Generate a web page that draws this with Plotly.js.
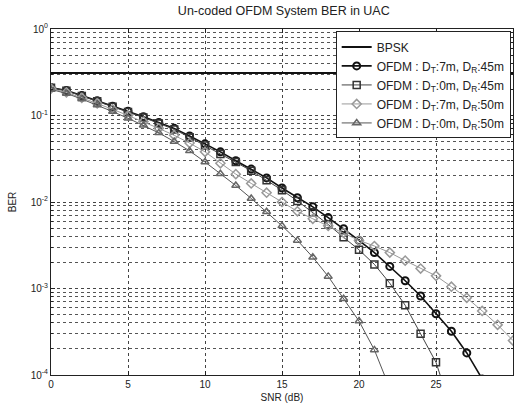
<!DOCTYPE html>
<html>
<head>
<meta charset="utf-8">
<script src="https://cdn.plot.ly/plotly-3.0.1.min.js"></script>
<style>html,body{margin:0;padding:0;background:#fff;}#chart{width:516px;height:410px;}</style>
</head>
<body>
<div id="chart"></div>
<script>
const snr = [0,1,2,3,4,5,6,7,8,9,10,11,12,13,14,15,16,17,18,19,20,21,22,23,24,25,26,27,28,29,30];
const bpskX = [0, 30];
const bpskBer = [0.31, 0.31];
const berT7R45 = [0.21,0.195,0.17,0.148,0.128,0.112,0.097,0.083,0.071,0.058,0.047,0.038,0.030,0.024,0.019,0.0145,0.0112,0.0088,0.0066,0.0049,0.0036,0.0026,0.0018,0.00123,0.00082,0.00051,0.00032,0.00018,0.00009];
const berT0R45 = [0.21,0.193,0.168,0.146,0.126,0.110,0.095,0.081,0.069,0.056,0.045,0.036,0.029,0.023,0.0178,0.0137,0.0103,0.0076,0.0055,0.0039,0.0028,0.0019,0.00115,0.00064,0.0003,0.00014,0.00004];
const berT7R50 = [0.205,0.185,0.16,0.138,0.118,0.100,0.085,0.071,0.059,0.048,0.038,0.028,0.021,0.0164,0.0128,0.010,0.0078,0.0064,0.0053,0.0044,0.0036,0.0031,0.0026,0.0021,0.0017,0.0014,0.00105,0.00078,0.00055,0.00038,0.00025];
const berT0R50 = [0.2,0.18,0.155,0.132,0.111,0.093,0.077,0.063,0.050,0.039,0.029,0.0212,0.0155,0.011,0.0077,0.0053,0.0036,0.0023,0.00138,0.00076,0.00042,0.000195,0.00007];
const seriesNames = ['BPSK',
  'OFDM : D<sub>T</sub>:7m, D<sub>R</sub>:45m',
  'OFDM : D<sub>T</sub>:0m, D<sub>R</sub>:45m',
  'OFDM : D<sub>T</sub>:7m, D<sub>R</sub>:50m',
  'OFDM : D<sub>T</sub>:0m, D<sub>R</sub>:50m'];
const yTickVals = [1e-4, 1e-3, 1e-2, 1e-1, 1];
const yTickText = ['10<sup>-4</sup>','10<sup>-3</sup>','10<sup>-2</sup>','10<sup>-1</sup>','10<sup>0</sup>'];
const xTickVals = [0,5,10,15,20,25,30];

const traces = [
  {x: bpskX, y: bpskBer, name: seriesNames[0], mode: 'lines', line: {color: '#111', width: 2}},
  {x: snr.slice(0, berT7R45.length), y: berT7R45, name: seriesNames[1], mode: 'lines+markers',
   line: {color: '#111', width: 1.6}, marker: {symbol: 'circle-open', size: 7, color: '#111', line: {width: 2}}},
  {x: snr.slice(0, berT0R45.length), y: berT0R45, name: seriesNames[2], mode: 'lines+markers',
   line: {color: '#444', width: 1}, marker: {symbol: 'square-open', size: 7, color: '#333', line: {width: 1.5}}},
  {x: snr.slice(0, berT7R50.length), y: berT7R50, name: seriesNames[3], mode: 'lines+markers',
   line: {color: '#999', width: 1}, marker: {symbol: 'diamond-open', size: 7, color: '#999', line: {width: 1.5}}},
  {x: snr.slice(0, berT0R50.length), y: berT0R50, name: seriesNames[4], mode: 'lines+markers',
   line: {color: '#555', width: 1}, marker: {symbol: 'triangle-up-open', size: 7, color: '#666', line: {width: 1.5}}}
];

const layout = {
  width: 516, height: 410,
  margin: {l: 51, r: 3, t: 29, b: 35},
  paper_bgcolor: '#fff', plot_bgcolor: '#fff',
  font: {family: 'Liberation Sans, Arial, sans-serif', size: 10, color: '#222'},
  title: {text: 'Un-coded OFDM System BER in UAC', x: 0.55, xanchor: 'center', y: 0.985, yanchor: 'top', font: {size: 12.5, color: '#222'}},
  showlegend: true,
  legend: {x: 0.995, xanchor: 'right', y: 0.993, yanchor: 'top', bgcolor: '#fff', bordercolor: '#222', borderwidth: 1,
           font: {size: 12, color: '#222'}, tracegroupgap: 0},
  xaxis: {range: [0, 30], tickvals: xTickVals, ticks: 'inside', ticklen: 4, tickcolor: '#222',
          showline: true, linecolor: '#222', linewidth: 1, mirror: 'ticks', zeroline: false,
          showgrid: true, gridcolor: '#444', griddash: 'dot', gridwidth: 1,
          title: {text: 'SNR (dB)', standoff: 4, font: {size: 10}}},
  yaxis: {type: 'log', range: [-4, 0], tickvals: yTickVals, ticktext: yTickText, ticks: 'inside', ticklen: 4, tickcolor: '#222',
          showline: true, linecolor: '#222', linewidth: 1, mirror: 'ticks', zeroline: false,
          showgrid: true, gridcolor: '#444', griddash: 'dot', gridwidth: 1,
          minor: {dtick: 'D1', showgrid: true, gridcolor: '#555', griddash: 'dot', gridwidth: 1, ticks: 'inside', ticklen: 2, tickcolor: '#222'},
          title: {text: 'BER', standoff: 12, font: {size: 10}}}
};

Plotly.newPlot('chart', traces, layout, {displayModeBar: false, staticPlot: true});
</script>
</body>
</html>
